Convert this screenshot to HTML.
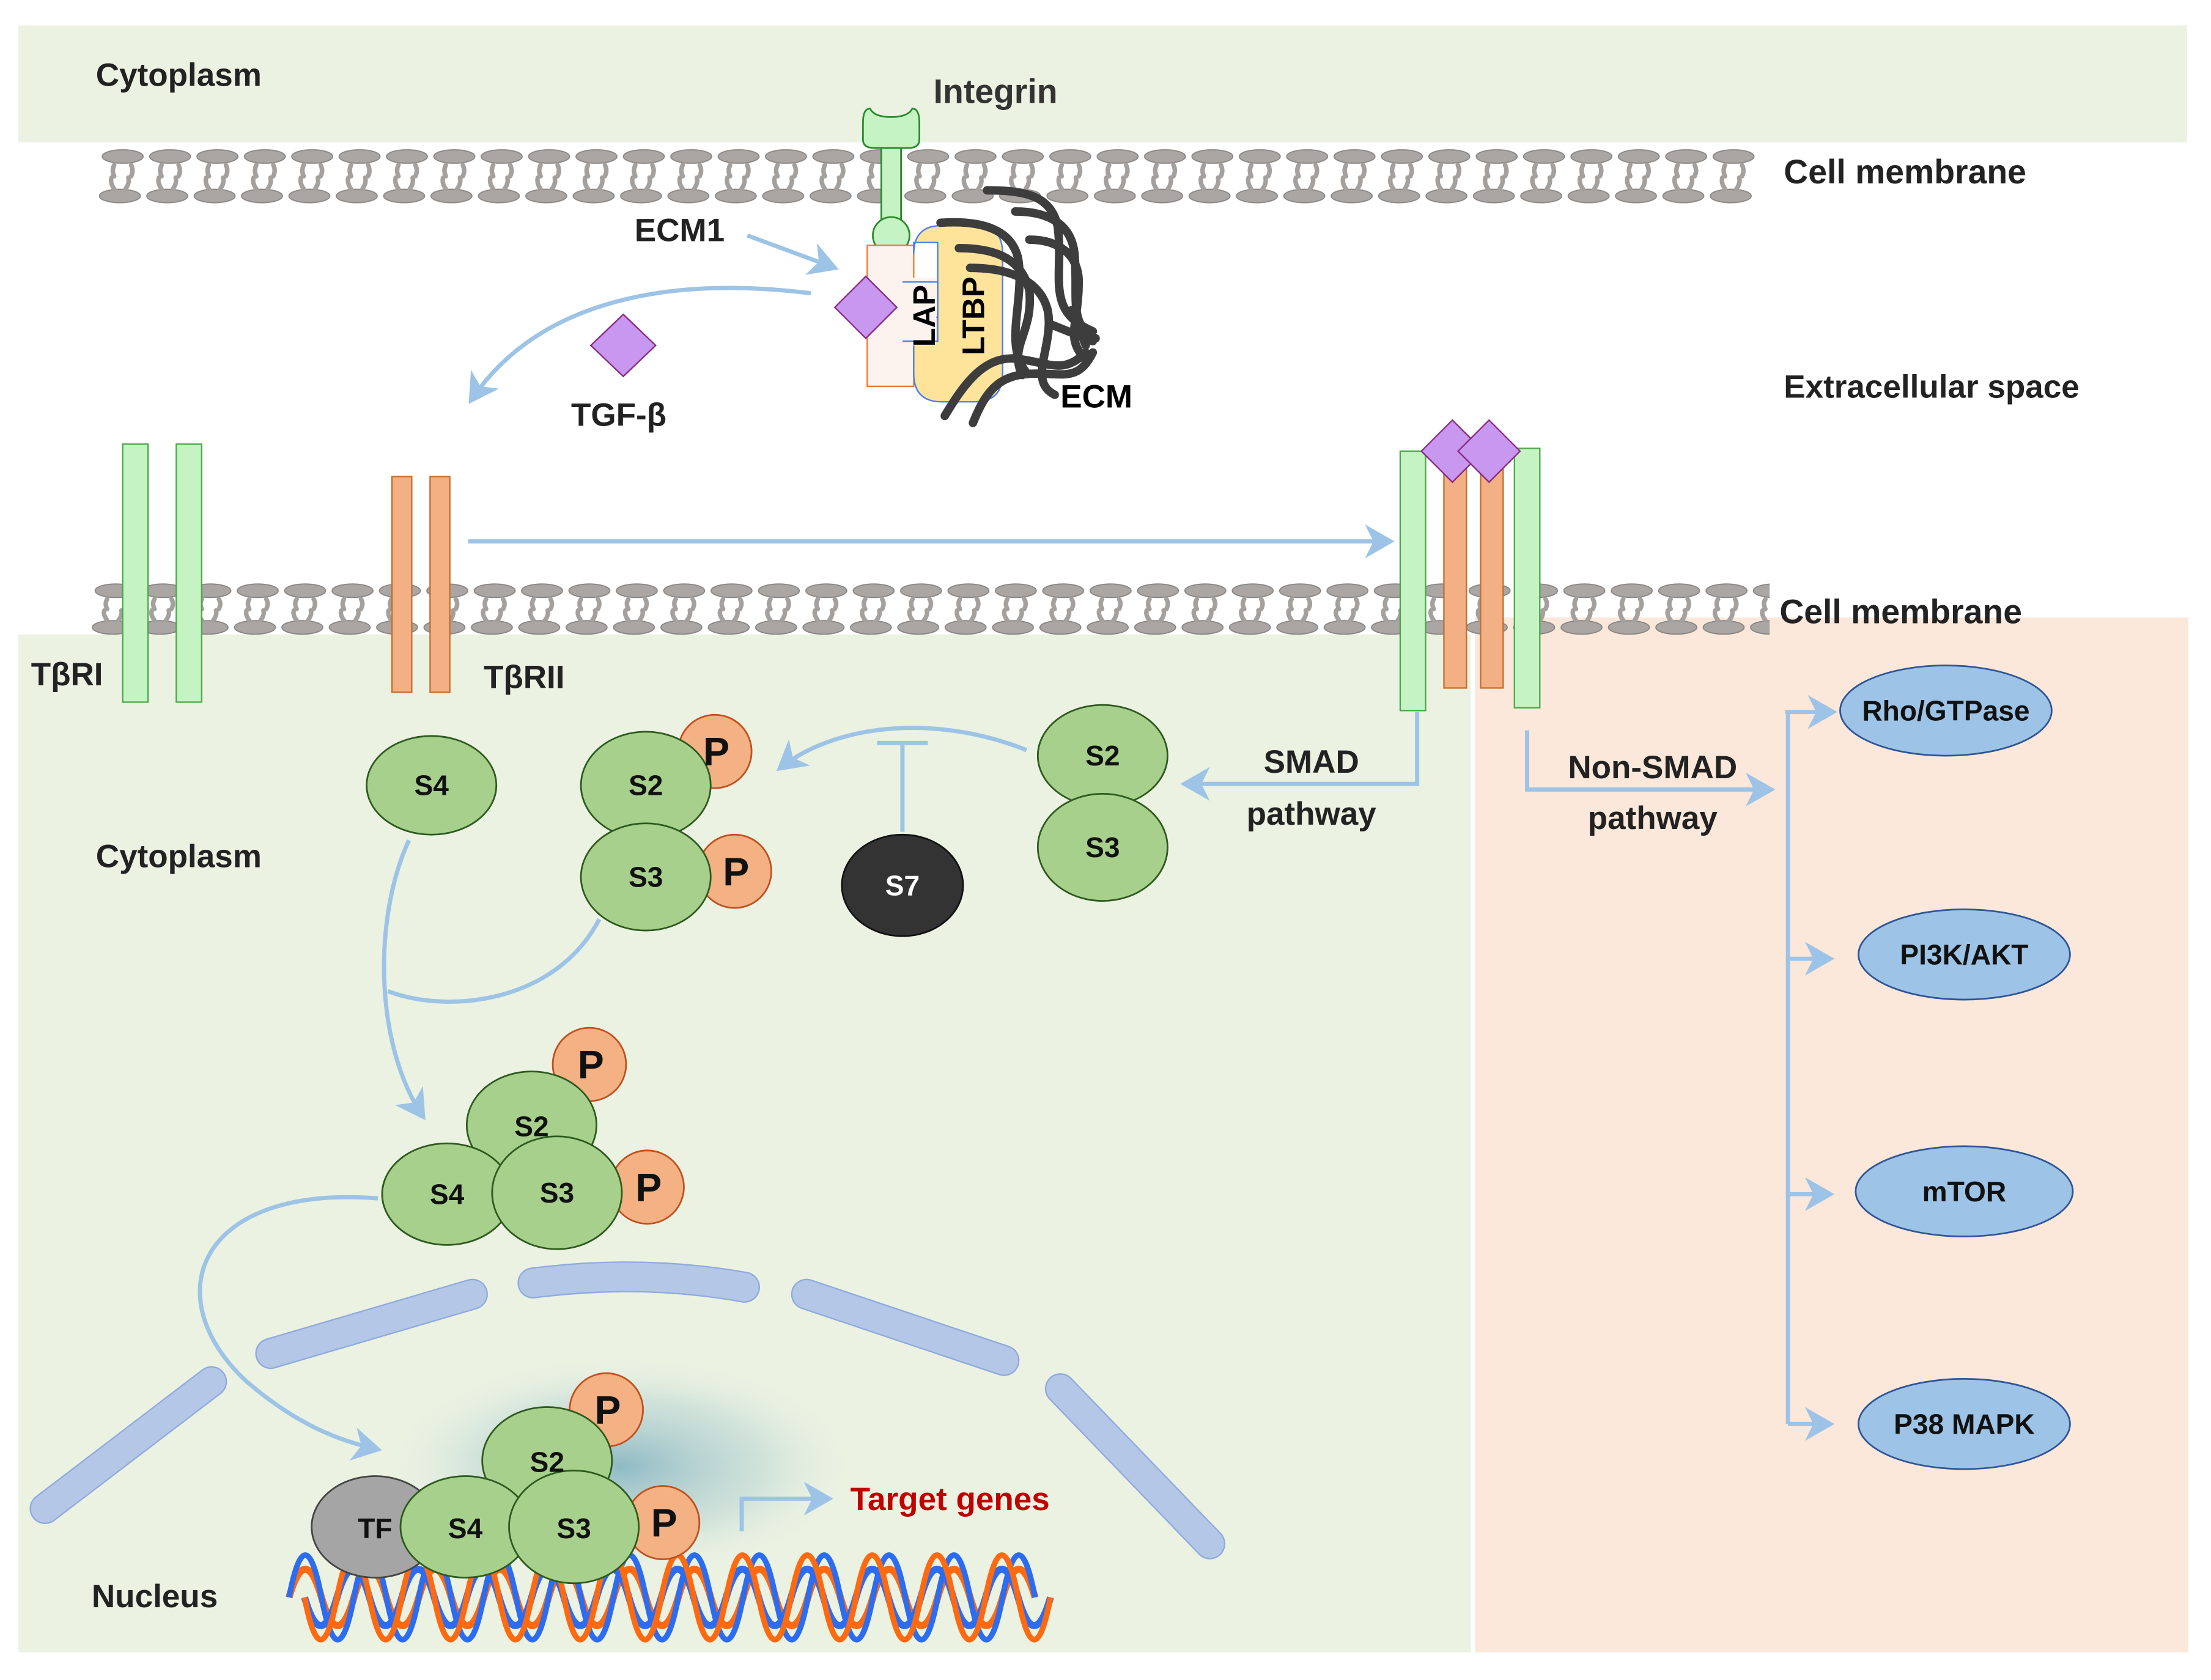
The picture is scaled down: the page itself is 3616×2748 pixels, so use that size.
<!DOCTYPE html>
<html><head><meta charset="utf-8"><style>
html,body{margin:0;padding:0;background:#fff;}
svg{display:block;}
text{font-family:"Liberation Sans",sans-serif;font-weight:bold;}
</style></head><body>
<svg width="3616" height="2748" viewBox="0 0 1568 1191.6" preserveAspectRatio="none" xmlns="http://www.w3.org/2000/svg">
<defs>
<pattern id="memT" x="70" y="102" width="33.6" height="300" patternUnits="userSpaceOnUse">
 <g fill="#aaa6a4" stroke="#8a8684" stroke-width="0.8">
  <ellipse cx="17" cy="9" rx="14.5" ry="4.8"/>
  <ellipse cx="15" cy="37" rx="14.5" ry="4.8"/>
 </g>
 <g fill="none" stroke="#a4a09e" stroke-width="3.2" stroke-linecap="round">
  <path d="M11,15 q-2,4 0,8"/><path d="M23,15 q2,4 0,8"/>
  <path d="M9,24 q-1,4 2,8"/><path d="M21,24 q1,4 -2,8"/>
 </g>
</pattern>
<pattern id="memB" x="65" y="410" width="33.6" height="300" patternUnits="userSpaceOnUse">
 <g fill="#aaa6a4" stroke="#8a8684" stroke-width="0.8">
  <ellipse cx="17" cy="9" rx="14.5" ry="4.8"/>
  <ellipse cx="15" cy="35" rx="14.5" ry="4.8"/>
 </g>
 <g fill="none" stroke="#a4a09e" stroke-width="3.2" stroke-linecap="round">
  <path d="M11,15 q-2,3 0,7"/><path d="M23,15 q2,3 0,7"/>
  <path d="M9,23 q-1,3 2,7"/><path d="M21,23 q1,3 -2,7"/>
 </g>
</pattern>
<radialGradient id="glow" cx="0.5" cy="0.5" r="0.5">
 <stop offset="0" stop-color="#7fb0c0" stop-opacity="0.85"/>
 <stop offset="0.6" stop-color="#b6d3d2" stop-opacity="0.5"/>
 <stop offset="1" stop-color="#e9f1e3" stop-opacity="0"/>
</radialGradient>
<marker id="ar" markerWidth="8" markerHeight="8" refX="6" refY="4" orient="auto" markerUnits="strokeWidth">
 <path d="M0,0 L7,4 L0,8 L2,4 Z" fill="#9dc3e6"/>
</marker>
</defs>

<rect x="13" y="18" width="1538" height="83" fill="#ebf2e2"/>
<rect x="13" y="450" width="1030" height="722" fill="#ebf2e2"/>
<rect x="1046" y="438" width="506" height="734" fill="#fbe8da"/>

<rect x="70" y="102" width="1176" height="46" fill="url(#memT)"/>
<rect x="65" y="410" width="1190" height="44" fill="url(#memB)"/>

<text x="68" y="61" font-size="23" fill="#222">Cytoplasm</text>
<text x="1265" y="130" font-size="24" fill="#222">Cell  membrane</text>
<text x="1262" y="442" font-size="24" fill="#222">Cell  membrane</text>
<text x="1265" y="282" font-size="23" fill="#222">Extracellular space</text>
<text x="662" y="73" font-size="24" fill="#333">Integrin</text>

<g fill="#c6f3c4" stroke="#2a8a2a" stroke-width="1.2">
 <rect x="625" y="90" width="14" height="120"/>
 <circle cx="632" cy="167" r="13"/>
 <path d="M612,87 q0,-10 5,-10 q3,6 15,6 q12,0 15,-6 q5,0 5,10 v12 q0,6 -8,6 h-24 q-8,0 -8,-6 z"/>
</g>
<path d="M615,182 h33 v100 h-33 z" fill="#fdf3ee" stroke="#f07a30" stroke-width="1" transform="translate(0,-8)" />
<path d="M648,180 q0,-20 20,-20 h25 q18,0 18,20 v85 q0,20 -20,20 h-23 q-20,0 -20,-20 v-40 h17 v-53 h-17 z" fill="#fde49a" stroke="#4a7cf0" stroke-width="1"/>
<rect x="638" y="197" width="26" height="48" fill="#fdf3ee" stroke="none"/>
<path d="M640,200 h25 v42 h-25" fill="none" stroke="#4a7cf0" stroke-width="1"/>
<polygon points="614,196 636,218 614,240 592,218" fill="#c897f0" stroke="#8a2a80" stroke-width="1"/>
<text transform="translate(663,246) rotate(-90)" font-size="22" fill="#000">LAP</text>
<text transform="translate(698,252) rotate(-90)" font-size="22" fill="#000">LTBP</text>
<g fill="none" stroke="#3d3d3d" stroke-width="6" stroke-linecap="round">
 <path d="M667,158 c30,-2 50,5 55,25 c5,30 -10,60 5,80"/>
 <path d="M680,176 c30,0 45,10 50,30 c3,30 -15,40 -5,60"/>
 <path d="M688,190 c30,0 50,10 55,30 c5,25 -15,50 5,60"/>
 <path d="M700,135 c30,0 45,5 50,25 c5,35 -10,60 25,75"/>
 <path d="M720,150 c25,0 40,10 42,30 c3,30 -5,50 15,60"/>
 <path d="M730,170 c20,0 35,10 35,30 c0,30 -10,40 5,55"/>
 <path d="M670,295 c15,-25 30,-45 55,-40 c20,3 30,10 45,-5"/>
 <path d="M690,300 c10,-25 20,-35 45,-35 c20,0 30,5 40,-15"/>
 <path d="M745,230 l30,12"/><path d="M760,220 l10,25"/>
</g>
<text x="752" y="289" font-size="23" fill="#000">ECM</text>

<text x="450" y="171" font-size="23" fill="#222">ECM1</text>
<path d="M530,167 L592,190" stroke="#9dc3e6" stroke-width="3" fill="none" marker-end="url(#ar)"/>
<path d="M575,208 C470,195 380,215 334,284" stroke="#9dc3e6" stroke-width="3" fill="none" marker-end="url(#ar)"/>
<polygon points="442,223 465,245 442,267 419,245" fill="#c897f0" stroke="#8a2a80" stroke-width="1"/>
<text x="405" y="302" font-size="23" fill="#222">TGF-β</text>

<g stroke="#4aa84a" stroke-width="1" fill="#c6f3c4">
 <rect x="87" y="315" width="18" height="183"/>
 <rect x="125" y="315" width="18" height="183"/>
</g>
<g stroke="#c07030" stroke-width="1" fill="#f2b084">
 <rect x="278" y="338" width="14" height="153"/>
 <rect x="305" y="338" width="14" height="153"/>
</g>
<text x="22" y="486" font-size="23" fill="#222">TβRI</text>
<text x="343" y="488" font-size="23" fill="#222">TβRII</text>
<path d="M332,384 L986,384" stroke="#9dc3e6" stroke-width="3" fill="none" marker-end="url(#ar)"/>

<g stroke="#4aa84a" stroke-width="1" fill="#c6f3c4">
 <rect x="993" y="320" width="18" height="184"/>
 <rect x="1074" y="318" width="18" height="184"/>
</g>
<g stroke="#c07030" stroke-width="1" fill="#f2b084">
 <rect x="1024" y="330" width="16" height="158"/>
 <rect x="1050" y="330" width="16" height="158"/>
</g>
<polygon points="1030,298 1052,320 1030,342 1008,320" fill="#c897f0" stroke="#8a2a80" stroke-width="1"/>
<polygon points="1056,298 1078,320 1056,342 1034,320" fill="#c897f0" stroke="#8a2a80" stroke-width="1"/>

<path d="M1005,505 V556 H840" stroke="#9dc3e6" stroke-width="3" fill="none" marker-end="url(#ar)"/>
<text x="930" y="548" font-size="23" text-anchor="middle" fill="#222">SMAD</text>
<text x="930" y="585" font-size="23" text-anchor="middle" fill="#222">pathway</text>
<path d="M1083,518 V560 H1256" stroke="#9dc3e6" stroke-width="3" fill="none" marker-end="url(#ar)"/>
<text x="1172" y="552" font-size="23" text-anchor="middle" fill="#222">Non-SMAD</text>
<text x="1172" y="588" font-size="23" text-anchor="middle" fill="#222">pathway</text>
<path d="M1268,505 V1010" stroke="#9dc3e6" stroke-width="3" fill="none"/>
<g stroke="#9dc3e6" stroke-width="3" fill="none" marker-end="url(#ar)">
 <path d="M1266,505 H1300"/><path d="M1268,680 H1298"/><path d="M1268,847 H1298"/><path d="M1268,1010 H1298"/>
</g>
<g fill="#9dc3e6" stroke="#2f5597" stroke-width="1.2">
 <ellipse cx="1380" cy="504" rx="75" ry="32"/>
 <ellipse cx="1393" cy="677" rx="75" ry="32"/>
 <ellipse cx="1393" cy="845" rx="77" ry="32"/>
 <ellipse cx="1393" cy="1010" rx="75" ry="32"/>
</g>
<g font-size="20" fill="#111" text-anchor="middle">
 <text x="1380" y="511">Rho/GTPase</text>
 <text x="1393" y="684">PI3K/AKT</text>
 <text x="1393" y="852">mTOR</text>
 <text x="1393" y="1017">P38 MAPK</text>
</g>

<text x="68" y="615" font-size="23" fill="#222">Cytoplasm</text>

<g stroke="#2d5a1e" stroke-width="1.2">
 <ellipse cx="306" cy="557" rx="46" ry="35" fill="#a8d08d"/>
 <circle cx="507" cy="533" r="26" fill="#f4b183" stroke="#c05020"/>
 <circle cx="521" cy="618" r="26" fill="#f4b183" stroke="#c05020"/>
 <ellipse cx="458" cy="557" rx="46" ry="38" fill="#a8d08d"/>
 <ellipse cx="458" cy="622" rx="46" ry="38" fill="#a8d08d"/>
 <ellipse cx="640" cy="628" rx="43" ry="36" fill="#333" stroke="#111"/>
 <ellipse cx="782" cy="536" rx="46" ry="36" fill="#a8d08d"/>
 <ellipse cx="782" cy="601" rx="46" ry="38" fill="#a8d08d"/>
</g>
<g font-size="20" text-anchor="middle" fill="#111">
 <text x="306" y="564">S4</text><text x="458" y="564">S2</text><text x="458" y="629">S3</text>
 <text x="640" y="635" fill="#fff">S7</text>
 <text x="782" y="543">S2</text><text x="782" y="608">S3</text>
</g>
<g font-size="28" text-anchor="middle" fill="#111">
 <text x="508" y="543">P</text><text x="522" y="628">P</text>
</g>
<path d="M728,532 C660,505 590,515 553,545" stroke="#9dc3e6" stroke-width="3" fill="none" marker-end="url(#ar)"/>
<path d="M640,590 V527 M622,527 H658" stroke="#9dc3e6" stroke-width="3" fill="none"/>

<path d="M290,596 C265,650 265,740 300,792" stroke="#9dc3e6" stroke-width="3" fill="none" marker-end="url(#ar)"/>
<path d="M425,652 C395,710 320,720 275,703" stroke="#9dc3e6" stroke-width="3" fill="none"/>

<g stroke="#2d5a1e" stroke-width="1.2">
 <circle cx="418" cy="755" r="26" fill="#f4b183" stroke="#c05020"/>
 <circle cx="459" cy="842" r="26" fill="#f4b183" stroke="#c05020"/>
 <ellipse cx="377" cy="798" rx="46" ry="38" fill="#a8d08d"/>
 <ellipse cx="317" cy="847" rx="46" ry="36" fill="#a8d08d"/>
 <ellipse cx="395" cy="846" rx="46" ry="40" fill="#a8d08d"/>
</g>
<g font-size="20" text-anchor="middle" fill="#111">
 <text x="377" y="806">S2</text><text x="317" y="854">S4</text><text x="395" y="853">S3</text>
</g>
<g font-size="28" text-anchor="middle" fill="#111"><text x="419" y="765">P</text><text x="460" y="852">P</text></g>
<path d="M268,850 C140,840 110,920 175,980 C210,1010 240,1022 268,1028" stroke="#9dc3e6" stroke-width="3" fill="none" marker-end="url(#ar)"/>

<g fill="none" stroke-linecap="round">
 <g stroke="#8faadc" stroke-width="22">
  <path d="M32,1070 L150,980"/><path d="M192,960 L335,918"/><path d="M378,910 Q455,900 528,913"/>
  <path d="M572,918 L712,965"/><path d="M752,985 L858,1095"/>
 </g>
 <g stroke="#b4c7e7" stroke-width="20">
  <path d="M32,1070 L150,980"/><path d="M192,960 L335,918"/><path d="M378,910 Q455,900 528,913"/>
  <path d="M572,918 L712,965"/><path d="M752,985 L858,1095"/>
 </g>
</g>
<ellipse cx="440" cy="1040" rx="170" ry="80" fill="url(#glow)"/>

<g fill="none" stroke-width="5">
 <path stroke="#ff6a10" d="M205,1133 q11.5,-40 23,0 t23,0 t23,0 t23,0 t23,0 t23,0 t23,0 t23,0 t23,0 t23,0 t23,0 t23,0 t23,0 t23,0 t23,0 t23,0 t23,0 t23,0 t23,0 t23,0 t23,0 t23,0 t23,0"/>
 <path stroke="#2c6cf0" d="M216,1133 q11.5,40 23,0 t23,0 t23,0 t23,0 t23,0 t23,0 t23,0 t23,0 t23,0 t23,0 t23,0 t23,0 t23,0 t23,0 t23,0 t23,0 t23,0 t23,0 t23,0 t23,0 t23,0 t23,0 t23,0"/>
 <path stroke="#2c6cf0" d="M205,1133 q11.5,-60 23,0 t23,0 t23,0 t23,0 t23,0 t23,0 t23,0 t23,0 t23,0 t23,0 t23,0 t23,0 t23,0 t23,0 t23,0 t23,0 t23,0 t23,0 t23,0 t23,0 t23,0 t23,0 t23,0" stroke-width="4"/>
 <path stroke="#ff6a10" d="M216,1133 q11.5,60 23,0 t23,0 t23,0 t23,0 t23,0 t23,0 t23,0 t23,0 t23,0 t23,0 t23,0 t23,0 t23,0 t23,0 t23,0 t23,0 t23,0 t23,0 t23,0 t23,0 t23,0 t23,0 t23,0" stroke-width="4"/>
</g>

<g stroke="#2d5a1e" stroke-width="1.2">
 <circle cx="430" cy="1000" r="26" fill="#f4b183" stroke="#c05020"/>
 <circle cx="470" cy="1080" r="26" fill="#f4b183" stroke="#c05020"/>
 <ellipse cx="266" cy="1083" rx="45" ry="36" fill="#a5a5a5" stroke="#444"/>
 <ellipse cx="388" cy="1036" rx="46" ry="38" fill="#a8d08d"/>
 <ellipse cx="330" cy="1083" rx="46" ry="36" fill="#a8d08d"/>
 <ellipse cx="407" cy="1083" rx="46" ry="40" fill="#a8d08d"/>
</g>
<g font-size="20" text-anchor="middle" fill="#111">
 <text x="266" y="1091">TF</text><text x="388" y="1044">S2</text><text x="330" y="1091">S4</text><text x="407" y="1091">S3</text>
</g>
<g font-size="28" text-anchor="middle" fill="#111"><text x="431" y="1010">P</text><text x="471" y="1090">P</text></g>
<path d="M526,1086 V1063 H588" stroke="#9dc3e6" stroke-width="3" fill="none" marker-end="url(#ar)"/>
<text x="603" y="1071" font-size="23" fill="#c00000">Target genes</text>
<text x="65" y="1140" font-size="23" fill="#222">Nucleus</text>
</svg>
</body></html>
